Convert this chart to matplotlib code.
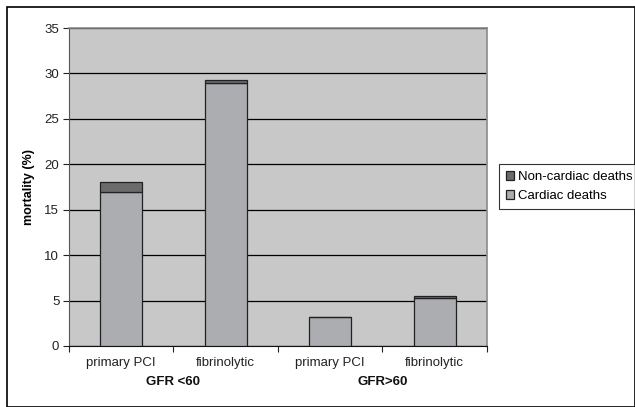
import matplotlib

matplotlib.use("Agg")
import matplotlib.pyplot as plt
import numpy as np
from matplotlib.patches import Rectangle

plt.rcParams["font.family"] = ["Liberation Sans", "DejaVu Sans"]

categories = ["primary PCI", "fibrinolytic", "primary PCI", "fibrinolytic"]
groups = ["GFR <60", "GFR>60"]
cardiac = [17.0, 29.0, 3.2, 5.3]
non_cardiac = [1.0, 0.3, 0.0, 0.2]
yticks = [0, 5, 10, 15, 20, 25, 30, 35]

fig = plt.figure(figsize=(6.35, 4.07), dpi=100)
ax = fig.add_axes([0.1087, 0.150, 0.658, 0.781])
ax.set_facecolor("#c8c8c8")

x = np.arange(len(categories))
ax.bar(x, cardiac, width=0.4, color="#abadb0", edgecolor="#222222",
       linewidth=0.9, label="Cardiac deaths", zorder=3)
ax.bar(x, non_cardiac, width=0.4, bottom=cardiac, color="#6b6b6b",
       edgecolor="#222222", linewidth=0.9, label="Non-cardiac deaths", zorder=3)

ax.set_xlim(-0.5, len(categories) - 0.5)
ax.set_ylim(0, 35)
ax.set_yticks(yticks)
ax.yaxis.grid(True, color="black", linewidth=0.9, zorder=1)
ax.tick_params(axis="y", direction="out", length=4, width=0.8, labelsize=9.5,
               colors="#222222", pad=3)

# category boundary ticks, labels in the middle
ax.set_xticks(np.arange(len(categories) + 1) - 0.5)
ax.set_xticklabels([])
ax.tick_params(axis="x", direction="out", length=4, width=0.8, colors="#222222")
for xi, lab in zip(x, categories):
    ax.text(xi, -1.2, lab, ha="center", va="top", fontsize=9.5, color="#222222")
for gi, g in enumerate(groups):
    ax.text(gi * 2 + 0.5, -3.3, g, ha="center", va="top", fontsize=9.5,
            fontweight="bold", color="#111111")

ax.set_ylabel("mortality (%)", fontsize=9, fontweight="bold", labelpad=7)

for side in ["top", "right"]:
    ax.spines[side].set_color("#8a8a8a")
    ax.spines[side].set_linewidth(1.2)
ax.spines["left"].set_color("#555555")
ax.spines["bottom"].set_color("#111111")

handles, labels = ax.get_legend_handles_labels()
leg = fig.legend(handles[::-1], labels[::-1], loc="upper left",
                 bbox_to_anchor=(0.786, 0.596), fontsize=9.5, frameon=True,
                 fancybox=False, edgecolor="black", handlelength=0.6,
                 handleheight=0.6, handletextpad=0.3, borderpad=0.5,
                 labelspacing=0.55, borderaxespad=0)
leg.get_frame().set_linewidth(0.8)

fig.patches.append(Rectangle((0.011, 0.0), 0.989, 0.983, transform=fig.transFigure,
                             fill=False, edgecolor="black", linewidth=1.2))

fig.savefig("out.png", dpi=100)
